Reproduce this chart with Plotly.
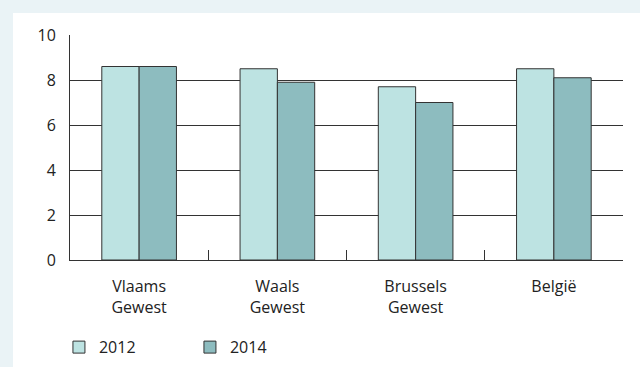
import plotly.graph_objects as go

# gegevens
regions = ['Vlaams<br>Gewest', 'Waals<br>Gewest', 'Brussels<br>Gewest', 'België']
years = ['2012', '2014']
values_2012 = [8.6, 8.5, 7.7, 8.5]
values_2014 = [8.6, 7.9, 7.0, 8.1]
y_ticks = [0, 2, 4, 6, 8, 10]

colors = {'2012': '#bde3e2', '2014': '#8dbcbf'}
series = {'2012': values_2012, '2014': values_2014}

fig = go.Figure()
for yr in years:
    fig.add_trace(go.Bar(
        x=regions,
        y=series[yr],
        name=yr,
        marker=dict(color=colors[yr], line=dict(color='#333333', width=1)),
    ))

# white panel on light blue page
fig.add_shape(type='rect', xref='paper', yref='paper',
              x0=-57 / 553, x1=570 / 553, y0=-107 / 225, y1=247 / 225,
              fillcolor='white', line_width=0, layer='below')

fig.update_layout(
    width=640, height=367,
    margin=dict(l=70, r=17, t=35, b=107, autoexpand=False),
    paper_bgcolor='#eaf3f6',
    plot_bgcolor='white',
    barmode='group',
    bargap=0.46,
    bargroupgap=0,
    font=dict(family='Open Sans', size=16, color='#222222'),
    showlegend=True,
    legend=dict(orientation='h', x=-0.02, xanchor='left', y=-0.312, yanchor='top',
                entrywidth=86, entrywidthmode='pixels', bgcolor='rgba(0,0,0,0)',
                font=dict(size=16)),
)
fig.update_xaxes(showline=True, linecolor='#333333', linewidth=1,
                 ticks='inside', tickson='boundaries', ticklen=10, tickcolor='#333333',
                 ticklabelstandoff=12, showgrid=False)
fig.update_yaxes(range=[0, 10], tickvals=y_ticks, showline=True, linecolor='#333333',
                 linewidth=1, showgrid=True, gridcolor='#333333', gridwidth=1,
                 ticks='', ticklabelstandoff=10, zeroline=False)

fig.write_html('out.html', config={'displayModeBar': False},
               post_script="document.body.style.margin='0';document.body.style.overflow='hidden';")
